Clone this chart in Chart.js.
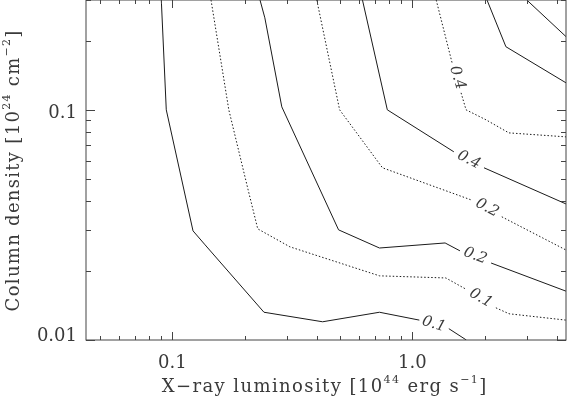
<!DOCTYPE html>
<html>
<head>
<meta charset="utf-8">
<script src="https://cdn.jsdelivr.net/npm/chart.js@4"></script>
<style>
    html, body { margin: 0; padding: 0; background: #fff; }
    #wrap { width: 567px; height: 399px; }
</style>
</head>
<body>
<div id="wrap"><canvas id="contourChart" width="567" height="399"></canvas></div>
<script>
// axis ranges (log-log)
const xRange = [0.0437, 4.37];
const yRange = [0.01, 0.3];

// labelled ticks
const xTickValues = [0.1, 1.0];
const xTickLabels = ["0.1", "1.0"];
const yTickValues = [0.01, 0.1];
const yTickLabels = ["0.01", "0.1"];

// contour lines (null = gap where the inline label sits)
const solid01X = [0.090, 0.0944, 0.122, 0.137, 0.241, 0.423, 0.730, 1.07, null, 1.42, 1.68];
const solid01Y = [0.30, 0.100, 0.0298, 0.0259, 0.0132, 0.0120, 0.0132, 0.0122, null, 0.0112, 0.0100];

const dotted01X = [0.145, 0.172, 0.207, 0.227, 0.309, 0.730, 1.38, 1.66, null, 2.23, 2.53, 4.37];
const dotted01Y = [0.30, 0.100, 0.0449, 0.0304, 0.0254, 0.0190, 0.0186, 0.0167, null, 0.0138, 0.0130, 0.0122];

const solid02X = [0.232, 0.243, 0.286, 0.493, 0.730, 1.37, 1.58, null, 2.13, 4.37];
const solid02Y = [0.30, 0.251, 0.103, 0.0301, 0.0251, 0.0264, 0.0244, null, 0.0216, 0.0163];

const dotted02X = [0.400, 0.498, 0.751, 1.76, null, 2.36, 4.37];
const dotted02Y = [0.30, 0.100, 0.0560, 0.0406, null, 0.0343, 0.0246];

const solid04X = [0.620, 0.787, 1.49, null, 1.99, 4.37];
const solid04Y = [0.30, 0.100, 0.0657, null, 0.0560, 0.0390];

const dotted04X = [1.258, 1.465, null, 1.597, 1.675, 2.028, 2.526, 4.37];
const dotted04Y = [0.30, 0.160, null, 0.1185, 0.100, 0.0905, 0.0794, 0.0763];

const solid06X = [2.048, 2.455, 4.37];
const solid06Y = [0.30, 0.188, 0.131];

const solid08X = [3.00, 4.37];
const solid08Y = [0.30, 0.208];

// inline contour labels
const contourLabelText = ["0.1", "0.1", "0.2", "0.2", "0.4", "0.4"];
const contourLabelX = [1.23, 1.93, 1.83, 2.05, 1.72, 1.54];
const contourLabelY = [0.0117, 0.0152, 0.0232, 0.0375, 0.0606, 0.1377];
const contourLabelAngle = [17, 30, 21, 28, 27, 73];

const LINE_COLOR = "#1a1a1a";
const TEXT_COLOR = "#3a3a3a";
const FONT = "DejaVu Serif";

function toPoints(xs, ys) {
    return xs.map((x, i) => ({ x: x, y: ys[i] }));
}

function contour(xs, ys, dotted) {
    return {
        data: toPoints(xs, ys),
        borderColor: LINE_COLOR,
        borderWidth: 1,
        borderDash: dotted ? [1.5, 2] : [],
        pointRadius: 0,
        tension: 0,
        spanGaps: false
    };
}

function logTicks(min, max) {
    const out = [];
    for (let e = Math.floor(Math.log10(min)); e <= Math.ceil(Math.log10(max)); e++) {
        for (let m = 1; m < 10; m++) {
            const v = m * Math.pow(10, e);
            if (v >= min * 0.999 && v <= max * 1.001) out.push({ v, major: m === 1 });
        }
    }
    return out;
}

// text with superscripts and a bit of letter spacing, centred on x = 0
function drawRich(ctx, parts, size, spacing) {
    const supSize = Math.round(size * 0.62);
    const chars = [];
    parts.forEach(p => {
        const f = (p.sup ? supSize : size) + "px " + FONT;
        ctx.font = f;
        for (const ch of p.t) {
            chars.push({ ch, f, sup: p.sup, w: ctx.measureText(ch).width });
        }
    });
    const total = chars.reduce((s, c) => s + c.w, 0) + spacing * (chars.length - 1);
    let x = -total / 2;
    ctx.textAlign = "left";
    ctx.textBaseline = "alphabetic";
    chars.forEach(c => {
        ctx.font = c.f;
        ctx.fillText(c.ch, x, c.sup ? -size * 0.5 : 0);
        x += c.w + spacing;
    });
}

const framePlugin = {
    id: "frame",
    afterDatasetsDraw(chart) {
        const ctx = chart.ctx;
        const xs = chart.scales.x, ys = chart.scales.y;
        ctx.save();
        ctx.fillStyle = TEXT_COLOR;
        ctx.font = "italic 15px " + FONT;
        ctx.textAlign = "center";
        ctx.textBaseline = "middle";
        contourLabelText.forEach((t, i) => {
            ctx.save();
            ctx.translate(xs.getPixelForValue(contourLabelX[i]), ys.getPixelForValue(contourLabelY[i]));
            ctx.rotate(contourLabelAngle[i] * Math.PI / 180);
            ctx.fillText(t, 0, 0);
            ctx.restore();
        });
        ctx.restore();
    },
    afterDraw(chart) {
        const ctx = chart.ctx;
        const a = chart.chartArea;
        const xs = chart.scales.x, ys = chart.scales.y;
        ctx.save();

        // box
        ctx.strokeStyle = "#444";
        ctx.lineWidth = 1;
        ctx.strokeRect(a.left, a.top, a.right - a.left, a.bottom - a.top);

        // inward ticks on all four sides
        ctx.beginPath();
        logTicks(xRange[0], xRange[1]).forEach(t => {
            const px = Math.round(xs.getPixelForValue(t.v)) + 0.5;
            const len = t.major ? 8 : 4;
            ctx.moveTo(px, a.bottom); ctx.lineTo(px, a.bottom - len);
            ctx.moveTo(px, a.top); ctx.lineTo(px, a.top + len);
        });
        logTicks(yRange[0], yRange[1]).forEach(t => {
            const py = Math.round(ys.getPixelForValue(t.v)) + 0.5;
            const len = t.major ? 9 : 5;
            ctx.moveTo(a.left, py); ctx.lineTo(a.left + len, py);
            ctx.moveTo(a.right, py); ctx.lineTo(a.right - len, py);
        });
        ctx.stroke();

        // tick labels
        ctx.fillStyle = TEXT_COLOR;
        ctx.font = "18px " + FONT;
        ctx.textBaseline = "alphabetic";
        ctx.textAlign = "center";
        xTickValues.forEach((v, i) => {
            ctx.fillText(xTickLabels[i], xs.getPixelForValue(v), a.bottom + 28);
        });
        ctx.textAlign = "right";
        yTickValues.forEach((v, i) => {
            const py = ys.getPixelForValue(v);
            ctx.fillText(yTickLabels[i], a.left - 9, Math.min(py + 8, a.bottom + 1));
        });

        // axis titles
        ctx.save();
        ctx.translate((a.left + a.right) / 2 - 2, a.bottom + 52);
        drawRich(ctx, [
            { t: "X\u2212ray luminosity [10" }, { t: "44", sup: true },
            { t: " erg s" }, { t: "\u22121", sup: true }, { t: "]" }
        ], 18, 1.4);
        ctx.restore();

        ctx.save();
        ctx.translate(19, (a.top + a.bottom) / 2 + 1);
        ctx.rotate(-Math.PI / 2);
        drawRich(ctx, [
            { t: "Column density [10" }, { t: "24", sup: true },
            { t: " cm" }, { t: "\u22122", sup: true }, { t: "]" }
        ], 18, 1.3);
        ctx.restore();

        ctx.restore();
    }
};

const ctx = document.getElementById("contourChart").getContext("2d");
const contourChart = new Chart(ctx, {
    type: "line",
    data: {
        datasets: [
            contour(solid01X, solid01Y, false),
            contour(dotted01X, dotted01Y, true),
            contour(solid02X, solid02Y, false),
            contour(dotted02X, dotted02Y, true),
            contour(solid04X, solid04Y, false),
            contour(dotted04X, dotted04Y, true),
            contour(solid06X, solid06Y, false),
            contour(solid08X, solid08Y, false)
        ]
    },
    options: {
        responsive: false,
        animation: false,
        devicePixelRatio: 1,
        layout: { padding: { left: 86, right: 1, top: 0, bottom: 59 } },
        plugins: {
            legend: { display: false },
            tooltip: { enabled: false }
        },
        scales: {
            x: { type: "logarithmic", min: xRange[0], max: xRange[1], display: false },
            y: { type: "logarithmic", min: yRange[0], max: yRange[1], display: false }
        }
    },
    plugins: [framePlugin]
});
</script>
</body>
</html>
